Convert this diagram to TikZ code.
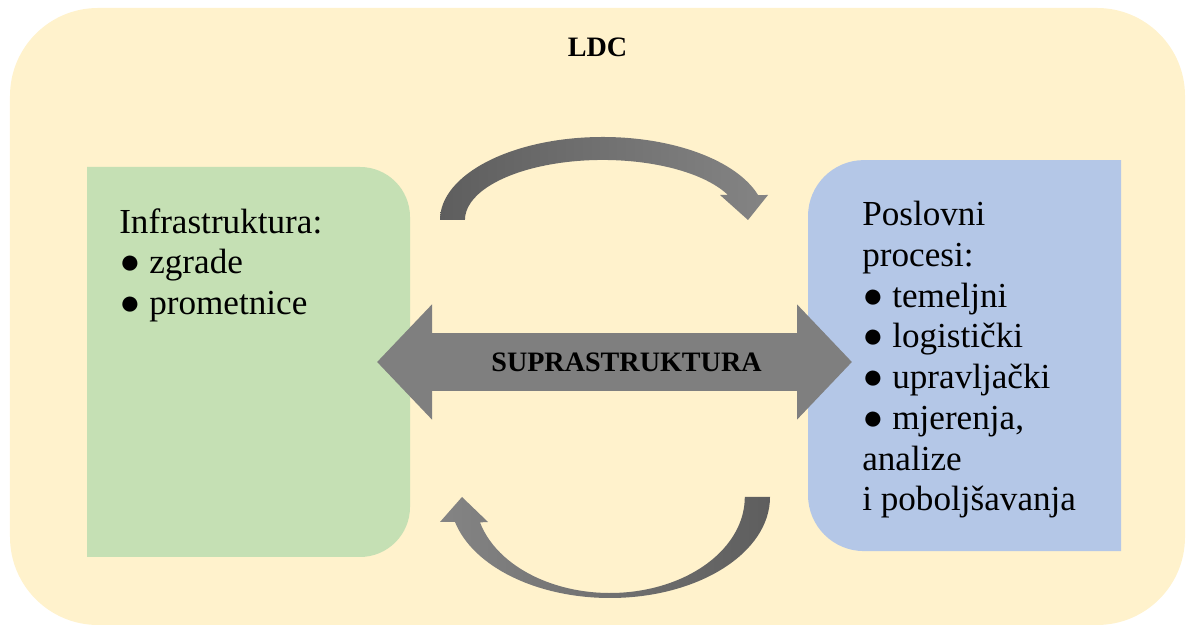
\documentclass[tikz,border=0pt]{standalone}
\usepackage{fontspec}
\setmainfont{Liberation Serif}
\usetikzlibrary{positioning, arrows.meta}
\definecolor{Frame}{HTML}{FFF2CC}
\definecolor{Infra}{HTML}{C5E0B4}
\definecolor{Proc}{HTML}{B4C7E7}
\definecolor{Supra}{HTML}{7F7F7F}
\definecolor{ArcDark}{HTML}{5E5E5E}
\definecolor{ArcLight}{HTML}{848484}
\tikzstyle{Box} = [
rectangle,
minimum width=8cm,
minimum height=9.75cm,
inner sep=0pt, outer sep=0pt]
\tikzstyle{List} = [
align=left,
inner sep=0pt,
font=\fontsize{25}{29}\selectfont]
\tikzstyle{Title} = [
font=\fontsize{20}{24}\selectfont\bfseries]
\tikzstyle{BigArrow} = [
Supra,
line width=1.45cm,
{Triangle[length=1.375cm, width=2.8cm]}-{Triangle[length=1.375cm, width=2.8cm]}]

\begin{document}
\begin{tikzpicture}
    \useasboundingbox (0,0) rectangle (29.8,15.8);
    \node (0) [rectangle, rounded corners=2.2cm, fill=Frame, minimum width=29.375cm, minimum height=15.425cm] at (14.9375,7.8875) {};
    \node (1) [Title] at ([yshift=-1cm]0.north) {LDC};
    \node (2) [Box, minimum width=8.075cm] at (6.2125,6.75) {};
    \node [right =9.95cm of 2, yshift=0.16cm] (3) [Box, minimum width=7.825cm, minimum height=9.775cm] {};
    \fill[Infra] (2.south west) -- (2.north west) -- ([xshift=-1.25cm]2.north east)
        arc[start angle=90, end angle=0, radius=1.25cm] -- ([yshift=1.25cm]2.south east)
        arc[start angle=0, end angle=-90, radius=1.25cm] -- cycle;
    \fill[Proc] (3.north east) -- (3.south east) -- ([xshift=1.4cm]3.south west)
        arc[start angle=270, end angle=180, radius=1.4cm] -- ([yshift=-1.4cm]3.north west)
        arc[start angle=180, end angle=90, radius=1.4cm] -- cycle;
    \node [below right=1.03cm and 0.8cm of 2.north west, List] (4) {Infrastruktura:\\● zgrade\\● prometnice};
    \node [below right=1.02cm and 1.35cm of 3.north west, List] (5) {Poslovni\\procesi:\\● temeljni\\● logistički\\● upravljački\\● mjerenja,\\analize\\i poboljšavanja};
    \coordinate (7) at (3.west |- 2.east);
    \draw[BigArrow] ([xshift=-0.825cm]2.east) -- ([xshift=1.1cm]7)
        node[midway, xshift=0.3cm, Title, text=black] (6) {SUPRASTRUKTURA};
    \shade[left color=ArcDark, right color=ArcLight] (11,10.3)
        arc[start angle=180, end angle=17.5, x radius=4.07cm, y radius=2.075cm]
        -- (19.2,10.925) -- (18.7,10.3) -- (18,10.925) -- (18.2,10.925)
        arc[start angle=24.6, end angle=180, x radius=3.445cm, y radius=1.5cm] -- cycle;
    \shade[left color=ArcLight, right color=ArcDark] (19.25,3.375)
        arc[start angle=0, end angle=-165.7, x radius=4cm, y radius=2.525cm]
        -- (11,2.75) -- (11.55,3.375) -- (12.2,2.75) -- (12,2.74)
        arc[start angle=-164.65, end angle=0, x radius=3.37cm, y radius=2.4cm] -- cycle;
\end{tikzpicture}
\end{document}
